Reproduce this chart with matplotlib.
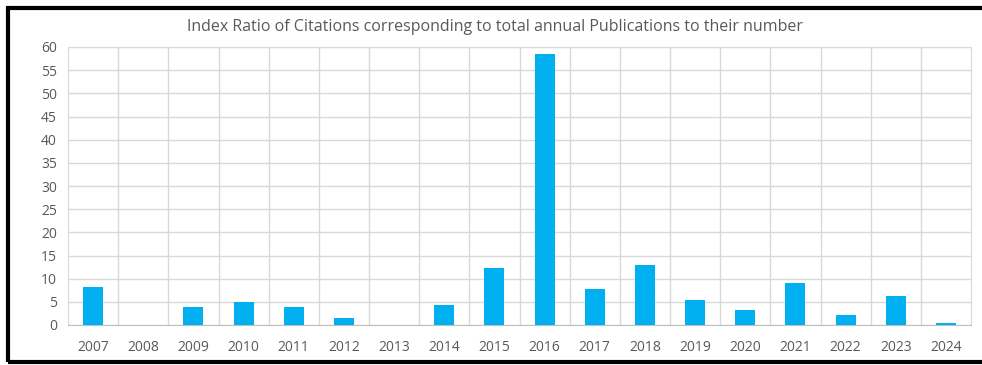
import matplotlib.pyplot as plt
from matplotlib.patches import Rectangle
from matplotlib.ticker import MultipleLocator
import numpy as np

years = [str(y) for y in range(2007, 2025)]
ratio = [8.2, 0, 3.9, 5.0, 3.9, 1.6, 0, 4.3, 12.2, 58.5,
         7.7, 12.95, 5.5, 3.2, 9.0, 2.2, 6.3, 0.4]

bar_color = "#00B0F0"
grid_color = "#D9D9D9"
text_color = "#595959"

plt.rcParams["font.family"] = ["Open Sans", "DejaVu Sans"]

fig = plt.figure(figsize=(9.82, 3.65), dpi=100)
ax = fig.add_axes([68 / 982, 1 - 325 / 365, (971 - 68) / 982, (325 - 47) / 365])

x = np.arange(len(years))
ax.bar(x, ratio, width=0.4, color=bar_color, zorder=3)

ax.set_xlim(-0.5, len(years) - 0.5)
ax.set_ylim(0, 60)
ax.yaxis.set_major_locator(MultipleLocator(5))
ax.set_xticks(x)
ax.set_xticklabels(years)

# category boundaries drawn as vertical gridlines, Excel style
for b in np.arange(0.5, len(years) - 0.5, 1):
    ax.axvline(b, color=grid_color, lw=1, zorder=1)
ax.grid(axis="y", color=grid_color, lw=1, zorder=1)

for side in ["top", "left", "right"]:
    ax.spines[side].set_color(grid_color)
ax.spines["bottom"].set_color("#BFBFBF")
ax.tick_params(length=0, colors=text_color, labelsize=10)
ax.tick_params(axis="x", pad=11)
ax.tick_params(axis="y", pad=8)

fig.text(495 / 982, 1 - 27 / 365,
         "Index Ratio of Citations corresponding to total annual Publications to their number",
         ha="center", va="center", fontsize=11.5, color=text_color)

# outer frame around the chart
fig.patches.append(Rectangle((8 / 982, 3 / 365), 1.2, 1 - 11 / 365,
                             transform=fig.transFigure, fill=False,
                             edgecolor="black", lw=3, zorder=10))

fig.savefig("out.png", dpi=100)
